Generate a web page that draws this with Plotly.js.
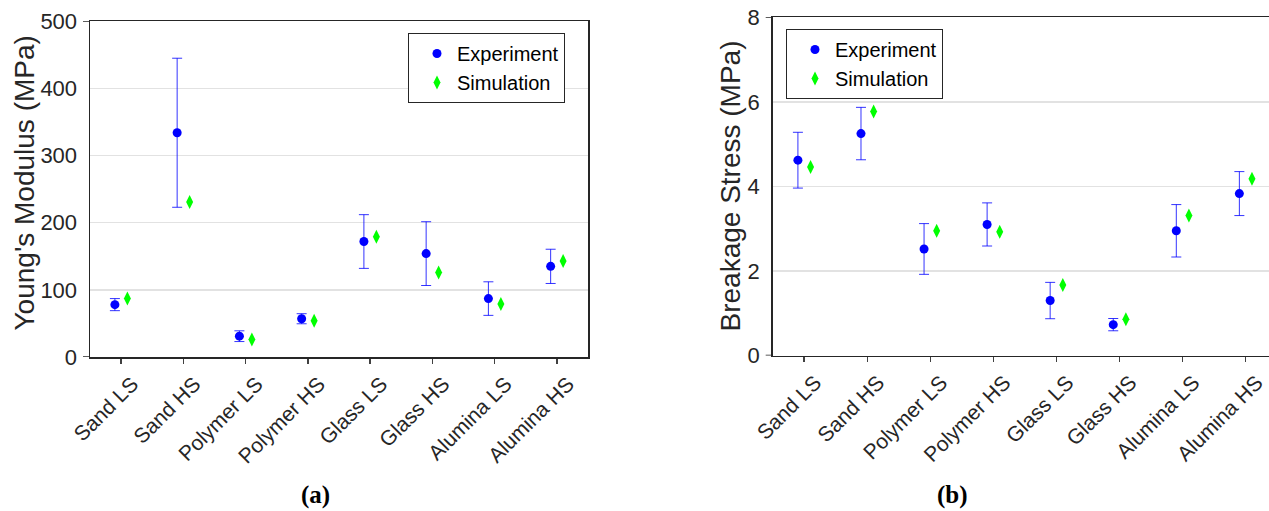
<!DOCTYPE html>
<html>
<head>
<meta charset="utf-8">
<script src="https://cdn.plot.ly/plotly-3.0.1.min.js"></script>
<style>html,body{margin:0;padding:0;background:#fff;}#chart{width:1269px;height:511px;}</style>
</head>
<body>
<div id="chart"></div>
<script>
// ---- data ----
const categories = ['Sand LS','Sand HS','Polymer LS','Polymer HS','Glass LS','Glass HS','Alumina LS','Alumina HS'];
const youngExp = [78, 334, 31, 57, 172, 154, 87, 135];
const youngErr = [9, 111, 8, 7.5, 40, 47.5, 25, 25.5];
const youngSim = [87, 231, 26, 54, 179, 126, 79, 143];
const stressExp = [4.62, 5.25, 2.52, 3.10, 1.30, 0.73, 2.95, 3.83];
const stressErr = [0.66, 0.62, 0.60, 0.51, 0.43, 0.145, 0.62, 0.52];
const stressSim = [4.46, 5.77, 2.95, 2.93, 1.67, 0.86, 3.31, 4.18];
const youngTicks = [0, 100, 200, 300, 400, 500];
const stressTicks = [0, 2, 4, 6, 8];

// ---- layout helpers ----
const W = 1269, H = 511;
const idx = categories.map((c, i) => i);
const off = 0.1;
const px = v => v / W;
const py = v => (H - v) / H;
const FONT = 'Liberation Sans, Arial, Helvetica, sans-serif';
const TXT = '#262626';

const expMarker = {symbol: 'circle', size: 9, color: '#0000ff'};
const simMarker = {symbol: 'diamond-tall', size: 10, color: '#00ff00'};
const errStyle = arr => ({type: 'data', array: arr, visible: true, color: 'rgba(0,0,255,0.8)', thickness: 1, width: 5});

const traces = [
  {x: idx.map(i => i - off), y: youngExp, error_y: errStyle(youngErr), type: 'scatter', mode: 'markers',
   marker: expMarker, name: 'Experiment', xaxis: 'x', yaxis: 'y', legend: 'legend'},
  {x: idx.map(i => i + off), y: youngSim, type: 'scatter', mode: 'markers',
   marker: simMarker, name: 'Simulation', xaxis: 'x', yaxis: 'y', legend: 'legend'},
  {x: idx.map(i => i - off), y: stressExp, error_y: errStyle(stressErr), type: 'scatter', mode: 'markers',
   marker: expMarker, name: 'Experiment', xaxis: 'x2', yaxis: 'y2', legend: 'legend2'},
  {x: idx.map(i => i + off), y: stressSim, type: 'scatter', mode: 'markers',
   marker: simMarker, name: 'Simulation', xaxis: 'x2', yaxis: 'y2', legend: 'legend2'}
];

const xBase = {
  tickmode: 'array', tickvals: idx, ticktext: categories, tickangle: -45,
  ticks: 'outside', ticklen: 5, tickwidth: 1.5, tickcolor: '#404040',
  ticklabelshift: 11,
  showline: true, linecolor: TXT, linewidth: 1.5, mirror: true,
  showgrid: false, zeroline: false, fixedrange: true,
  tickfont: {family: FONT, size: 21, color: TXT}
};
const yBase = {
  tickmode: 'array', ticks: 'outside', ticklen: 7, tickcolor: 'rgba(0,0,0,0)',
  showline: true, linecolor: TXT, linewidth: 1.5,
  showgrid: true, gridcolor: '#e2e2e2', gridwidth: 1.5, zeroline: false, fixedrange: true,
  tickfont: {family: FONT, size: 22, color: TXT}
};

const L1 = 90, R1 = 588, T1 = 21.3, B1 = 357;
const L2 = 772.7, T2 = 17.3, B2 = 355.5;

const legendFont = {family: FONT, size: 20, color: '#000'};

const layout = {
  width: W, height: H,
  margin: {l: 0, r: 0, t: 0, b: 0},
  paper_bgcolor: '#fff', plot_bgcolor: '#fff',
  showlegend: true, hovermode: false,
  font: {family: FONT, color: TXT},
  xaxis: Object.assign({}, xBase, {domain: [px(L1), px(R1)], range: [-0.5, 7.5], anchor: 'y'}),
  yaxis: Object.assign({}, yBase, {domain: [py(B1), py(T1)], range: [0, 500], tickvals: youngTicks, mirror: true, anchor: 'x'}),
  xaxis2: Object.assign({}, xBase, {domain: [px(L2), 1], range: [-0.5, 7.37], anchor: 'y2'}),
  yaxis2: Object.assign({}, yBase, {domain: [py(B2), py(T2)], range: [0, 8], tickvals: stressTicks, mirror: false, anchor: 'x2'}),
  legend: {x: px(408), y: py(33), xanchor: 'left', yanchor: 'top', bgcolor: '#fff',
           bordercolor: TXT, borderwidth: 1, font: legendFont, indentation: 8},
  legend2: {x: px(786), y: py(29), xanchor: 'left', yanchor: 'top', bgcolor: '#fff',
           bordercolor: TXT, borderwidth: 1, font: legendFont, indentation: 8},
  shapes: [
    {type: 'line', xref: 'paper', yref: 'y', x0: px(L1 - 7), x1: px(L1), y0: 0, y1: 0, line: {color: TXT, width: 1.5}},
    {type: 'line', xref: 'paper', yref: 'y', x0: px(L1 - 7), x1: px(L1), y0: 500, y1: 500, line: {color: TXT, width: 1.5}},
    {type: 'line', xref: 'paper', yref: 'y2', x0: px(L2 - 7), x1: px(L2), y0: 0, y1: 0, line: {color: TXT, width: 1.5}},
    {type: 'line', xref: 'paper', yref: 'y2', x0: px(L2 - 7), x1: px(L2), y0: 8, y1: 8, line: {color: TXT, width: 1.5}}
  ],
  annotations: [
    {text: "Young's Modulus (MPa)", xref: 'paper', yref: 'paper', x: px(23.5), y: py(183), textangle: -90,
     showarrow: false, xanchor: 'center', yanchor: 'middle', font: {family: FONT, size: 28, color: TXT}},
    {text: 'Breakage Stress (MPa)', xref: 'paper', yref: 'paper', x: px(730), y: py(186.5), textangle: -90,
     showarrow: false, xanchor: 'center', yanchor: 'middle', font: {family: FONT, size: 28, color: TXT}},
    {text: '<b>(a)</b>', xref: 'paper', yref: 'paper', x: px(315), y: py(495), showarrow: false,
     xanchor: 'center', yanchor: 'middle', font: {family: 'Liberation Serif, DejaVu Serif, serif', size: 25, color: '#000'}},
    {text: '<b>(b)</b>', xref: 'paper', yref: 'paper', x: px(952), y: py(495), showarrow: false,
     xanchor: 'center', yanchor: 'middle', font: {family: 'Liberation Serif, DejaVu Serif, serif', size: 25, color: '#000'}}
  ]
};

Plotly.newPlot('chart', traces, layout, {displayModeBar: false, staticPlot: true});
</script>
</body>
</html>
